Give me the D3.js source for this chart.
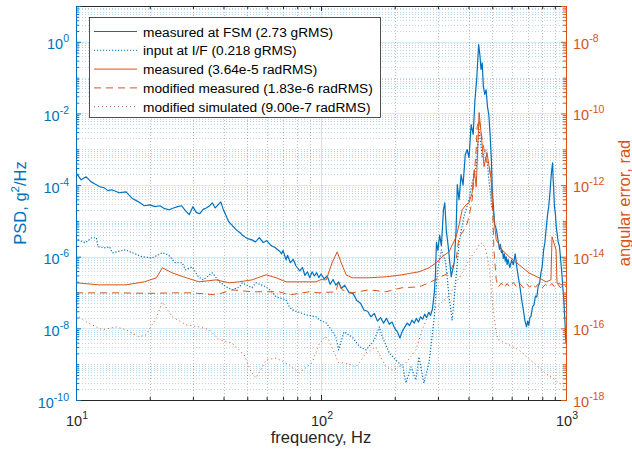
<!DOCTYPE html>
<html>
<head>
<meta charset="utf-8">
<script src="https://cdn.jsdelivr.net/npm/d3@7"></script>
<style>
  body { margin: 0; background: #fff; }
  text { font-family: "Liberation Sans", Arial, Helvetica, sans-serif; }
</style>
</head>
<body>
<div id="chart"></div>
<script>
// ---- data ----
// measured at FSM (left axis, g^2/Hz)
var fsmFreq = [10, 10.5, 11, 11.5, 12, 12.5, 13, 13.5, 14, 15, 16, 17, 18, 19, 20, 21, 22, 23, 24, 25, 26, 27, 28, 29, 30, 31, 32, 33, 34, 35, 36, 37, 38, 39, 40, 41, 42, 43, 45, 47, 48, 50, 52, 54, 56, 58, 60, 62, 63, 65, 66, 68, 69, 70, 72, 73, 75, 77, 79,
  80, 82, 84, 86, 88, 90, 92, 94, 96, 98, 100, 103, 106, 109, 112, 115, 118, 121, 125, 130, 135, 140, 145, 150, 155, 160, 165, 170, 175, 180, 185, 190, 195, 200, 205, 210, 215, 220, 225, 230, 235, 240, 245, 250, 255, 260, 265, 270, 275, 280, 285,
  290, 293, 296, 300, 305, 310, 316, 320, 325, 330, 340, 350, 356, 360, 366, 373, 380, 388, 395, 402, 410, 418, 425, 432, 440, 445, 450, 455, 460, 466, 472, 478, 484, 490, 496, 500, 505, 512, 520,
  530, 535, 540, 545, 550, 555, 560, 565, 570, 575, 580, 590, 600, 610, 620, 625, 630, 640, 650, 660, 670, 680, 690, 697, 705, 712, 720, 730, 740, 750, 760, 770, 780, 790, 800, 810, 820, 830, 840, 850, 860, 868, 875, 882, 886, 890, 897, 905, 912, 920, 930, 940, 950, 960, 970, 980, 990, 1000];
var fsmPsd = [2.2e-4, 1.4e-4, 1.7e-4, 1.25e-4, 1.05e-4, 9.0e-5, 8.5e-5, 7.0e-5, 7.4e-5, 6.1e-5, 6.5e-5, 4.2e-5, 3.4e-5, 2.65e-5, 2.8e-5, 2.5e-5, 2.65e-5, 2.2e-5, 2.05e-5, 2.3e-5, 2.5e-5, 2.65e-5, 1.9e-5, 1.5e-5, 2.5e-5, 1.7e-5, 1.6e-5, 2.1e-5, 2.3e-5, 2.6e-5, 3.2e-5, 2.3e-5, 2.8e-5, 3.4e-5, 2.0e-5, 1.4e-5, 9.5e-6, 8.0e-6, 5.7e-6, 4.5e-6, 3.9e-6, 3.2e-6, 3.0e-6, 2.6e-6, 3.4e-6, 2.5e-6, 2.8e-6, 2.2e-6, 2.0e-6, 1.8e-6, 1.65e-6, 1.4e-6, 1.2e-6, 1.5e-6, 8.2e-7, 1.1e-6, 6.8e-7, 8.5e-7, 5.6e-7,
  5.0e-7, 4.0e-7, 5.0e-7, 3.0e-7, 3.8e-7, 2.6e-7, 3.8e-7, 2.9e-7, 3.6e-7, 2.6e-7, 3.3e-7, 2.4e-7, 2.9e-7, 1.7e-7, 2.3e-7, 1.6e-7, 2.0e-7, 1.3e-7, 1.6e-7, 1.0e-7, 9.5e-8, 6.0e-8, 5.0e-8, 3.2e-8, 3.0e-8, 2.1e-8, 2.6e-8, 1.6e-8, 2.0e-8, 1.4e-8, 1.9e-8, 1.3e-8, 1.5e-8, 1.0e-8, 8e-9, 5.4e-9, 8.5e-9, 1.1e-8, 1.4e-8, 1.2e-8, 1.7e-8, 1.4e-8, 1.9e-8, 1.5e-8, 2.1e-8, 1.8e-8, 2.5e-8, 2.0e-8, 2.8e-8, 2.3e-8, 3.5e-8,
  9.8e-8, 3.0e-7, 2.5e-6, 1.5e-6, 4e-6, 2.0e-6, 2.0e-5, 3.2e-5, 5e-6, 2.15e-6, 2.75e-7, 7.2e-7, 5.7e-6, 1.03e-4, 3.9e-5, 1.95e-4, 1.0e-4, 7.1e-4, 9.8e-4, 5.8e-4, 4.9e-3, 2.6e-3, 2.4e-2, 8.9e-2, 0.84, 0.44, 0.17, 0.26, 5.6e-2, 3.4e-2, 4.6e-2, 1.56e-2, 9.3e-3, 2.6e-3, 5.1e-4, 7.4e-5, 2.8e-5, 7.8e-6, 5.7e-6,
  2.5e-6, 1.6e-6, 2.2e-6, 1.3e-6, 1.5e-6, 9e-7, 1.2e-6, 7.5e-7, 1.0e-6, 6e-7, 8.5e-7, 5e-7, 8e-7, 6e-7, 1.2e-6, 8e-7, 5e-7, 2.5e-7, 1.3e-7, 6e-8, 3.2e-8, 1.6e-8, 1.1e-8, 1.6e-8, 1.2e-8, 2.0e-8, 2.2e-8, 4e-8, 4.5e-8, 8e-8, 7.5e-8, 1.5e-7, 1.8e-7, 3.5e-7, 5.5e-7, 1.5e-6, 2.5e-6, 6e-6, 1.4e-5, 2.5e-5, 6e-5, 1.5e-4, 2.7e-4, 4.2e-4, 1.5e-4, 9e-5, 2.5e-5, 1.6e-5, 7e-6, 4.5e-6, 2.5e-6, 2.0e-6, 9e-7, 4e-7, 1.5e-7, 6e-8, 1.5e-8, 3.9e-9];

// input at I/F (left axis, g^2/Hz)
var ifFreq = [10.2, 10.9, 11.6, 12.1, 12.3, 13.2, 13.7, 14.1, 15.9, 17, 18.6, 20.5, 22.5, 23.8, 25.4, 27.1, 28, 29.8, 31.6, 33, 36, 38.5, 41, 43.4, 46.5, 47.7, 52.3, 54.3, 59.7, 63, 65.6, 72, 74.3, 76.5, 87, 95.5, 98.3, 105, 108, 115, 118, 124, 134, 144, 153, 165, 173, 178, 190, 202, 216, 222, 233, 244, 251, 263, 276, 290, 299, 310, 323, 333, 343, 356, 366, 383, 402, 414, 430, 442, 455, 471, 486, 499];
var ifPsd = [2.98e-6, 2.45e-6, 3.39e-6, 3.39e-6, 1.9e-6, 1.77e-6, 1.9e-6, 1.29e-6, 1.56e-6, 1.29e-6, 1.0e-6, 9.3e-7, 1.29e-6, 1.13e-6, 6.8e-7, 6.8e-7, 4.3e-7, 5.2e-7, 2.75e-7, 2.26e-7, 3.55e-7, 1.99e-7, 1.44e-7, 1.19e-7, 1.44e-7, 1.87e-7, 1.36e-7, 1.87e-7, 1.44e-7, 1.05e-7, 7.6e-8, 6.25e-8, 3.98e-8, 3.28e-8, 2.38e-8, 2.1e-8, 1.73e-8, 1.42e-8, 1.1e-8, 5.8e-9, 2.5e-9, 7.96e-9, 5.8e-9, 3.03e-9, 2.5e-9, 4.76e-9, 1.1e-8, 5.8e-9, 2.06e-9, 1.31e-9, 8.4e-10, 2.99e-10, 8.4e-10, 3.6e-10, 1.59e-9, 2.99e-10, 1.08e-9, 2.1e-8, 4.3e-7, 1.56e-6, 6.8e-7, 7.6e-8, 1.73e-8, 2.75e-7, 2.45e-6, 1.31e-5, 3.9e-5, 1.17e-4, 3.27e-4, 3.54e-3, 6.2e-4, 9.8e-4, 1.17e-4, 2.05e-5];

// measured angular error (right axis, rad)
var measFreq = [10, 12.4, 16, 19, 21.3, 22.5, 24.7, 28.2, 31.8, 37.3, 42.2, 46.4, 52.3, 59.7, 65.6, 72.1, 81.5, 95.5, 100, 105, 111, 116.5, 120.9, 126.7, 134, 157, 184.5, 214, 251, 276, 295, 312, 333, 356, 366, 377, 391, 402, 414, 422, 430, 442, 450, 463, 476, 495, 499, 519, 548, 586, 643, 706, 776, 829, 868, 877, 911, 919, 963, 1000];
var measErr = [1.87e-15, 1.64e-15, 1.64e-15, 1.99e-15, 2.58e-15, 4.9e-15, 3.55e-15, 2.58e-15, 1.99e-15, 2.26e-15, 1.87e-15, 1.99e-15, 2.26e-15, 3.13e-15, 2.58e-15, 1.99e-15, 1.99e-15, 1.99e-15, 2.3e-15, 2.26e-15, 6.78e-15, 1.37e-14, 6.78e-15, 3.13e-15, 2.58e-15, 2.58e-15, 2.75e-15, 3.13e-15, 3.79e-15, 4.9e-15, 6.78e-15, 1.0e-14, 1.37e-14, 3.6e-14, 7.8e-14, 2.05e-13, 2.83e-13, 3.22e-13, 6.1e-13, 2.7e-12, 9.0e-13, 1.06e-10, 2.9e-11, 3.27e-12, 8.05e-12, 1.42e-12, 3.9e-13, 2.98e-14, 1.56e-14, 1.0e-14, 5.96e-15, 3.55e-15, 2.58e-15, 1.99e-15, 2.26e-15, 3.6e-14, 1.56e-14, 1.87e-15, 1.64e-15, 1.64e-15];

// modified measured (right axis, rad)
var modFreq = [10, 15, 20, 25, 30, 37.3, 43.4, 52.3, 67.6, 74.3, 89.6, 98, 115, 118, 122, 134, 157, 184, 214, 251, 276, 303, 333, 356, 366, 377, 391, 402, 414, 430, 434, 442, 455, 471, 486, 499, 503, 508, 519,
  530, 545, 560, 575, 590, 610, 630, 650, 670, 690, 710, 730, 750, 775, 800, 825, 850, 875, 900, 925, 950, 975, 1000];
var modErr = [9.8e-16, 9.8e-16, 9.5e-16, 9.8e-16, 9.8e-16, 8.6e-16, 1.19e-15, 1.05e-15, 1.05e-15, 8.6e-16, 1.05e-15, 9.8e-16, 1.05e-15, 1.99e-15, 1.19e-15, 9.8e-16, 1.19e-15, 1.05e-15, 1.36e-15, 1.44e-15, 1.87e-15, 2.58e-15, 3.55e-15, 8.2e-15, 3.6e-14, 4.67e-14, 6.9e-14, 1.31e-13, 3.9e-13, 9.8e-12, 4.3e-11, 6.7e-11, 1.86e-11, 5.1e-12, 3.27e-12, 9.0e-13, 1.31e-13, 1.56e-14, 2.26e-15,
  1.44e-15, 1.85e-15, 1.35e-15, 1.8e-15, 1.4e-15, 1.9e-15, 1.4e-15, 1.75e-15, 1.35e-15, 1.8e-15, 1.4e-15, 1.75e-15, 1.4e-15, 1.8e-15, 1.35e-15, 1.7e-15, 1.4e-15, 1.8e-15, 1.4e-15, 1.75e-15, 1.35e-15, 1.7e-15, 1.44e-15];

// modified simulated (right axis, rad)
var simFreq = [10, 11, 12.8, 14.6, 16, 18.1, 19.3, 21.3, 22.5, 24.7, 28.2, 31.8, 35, 38.5, 43.4, 48.6, 51.9, 54.3, 59.7, 65.6, 74.3, 81.5, 92, 98, 104, 108, 112, 118, 126, 139, 153, 167, 184, 196, 222, 244, 259, 276, 295, 303, 333, 356, 377, 402, 430, 442, 455, 471, 486, 499, 519, 530, 565, 643, 714, 822, 940, 1000];
var simErr = [2.38e-16, 1.52e-16, 9.1e-17, 1.1e-16, 9.1e-17, 5.8e-17, 6.6e-17, 1.96e-16, 5.5e-16, 2.1e-16, 1.25e-16, 1.1e-16, 9.1e-17, 4.76e-17, 3.9e-17, 1.81e-17, 6.07e-18, 4.1e-18, 1.31e-17, 1.49e-17, 9.5e-18, 5.7e-18, 1.1e-17, 3.5e-17, 6e-17, 4.5e-17, 2.5e-17, 1.1e-17, 1.08e-17, 8.4e-18, 2.06e-17, 3.03e-17, 8.4e-18, 6.9e-18, 1.08e-17, 2.5e-17, 9.1e-17, 2.7e-16, 3.98e-16, 4.5e-16, 8.2e-16, 1.87e-15, 3.55e-15, 8.2e-15, 1.56e-14, 2.16e-14, 2.45e-14, 1.56e-14, 5.2e-15, 6.25e-16, 7.5e-17, 4.76e-17, 3.9e-17, 2.5e-17, 1.31e-17, 5.7e-18, 2.99e-18, 2.17e-18];

// tick labels (exponents of 10)
var xTickExp = [1, 2, 3];
var leftTickExp = [0, -2, -4, -6, -8, -10];
var rightTickExp = [-8, -10, -12, -14, -16, -18];

var legendLabels = [
  "measured at FSM (2.73 gRMS)",
  "input at I/F (0.218 gRMS)",
  "measured (3.64e-5 radRMS)",
  "modified measured (1.83e-6 radRMS)",
  "modified simulated (9.00e-7 radRMS)"
];

// ---- chart ----
var blue = "#0072BD", orange = "#D95319", axisGray = "#262626";

var svgWidth = 632;
var svgHeight = 454;
var margin = { top: 6, right: 66, bottom: 54, left: 76 };
var width = svgWidth - margin.left - margin.right;
var height = svgHeight - margin.top - margin.bottom;

var svg = d3.select("#chart").append("svg")
  .attr("width", svgWidth)
  .attr("height", svgHeight);

var chartGroup = svg.append("g")
  .attr("transform", `translate(${margin.left}, ${margin.top})`);

var xScale = d3.scaleLog().domain([10, 1000]).range([0, width]);
var yLeft = d3.scaleLog().domain([1e-10, 10]).range([height, 0]);
var yRight = d3.scaleLog().domain([1e-18, 1e-7]).range([height, 0]);

// tick positions
var xMajor = xTickExp.map(e => Math.pow(10, e));
var xMinor = [];
[10, 100].forEach(d => { for (var m = 2; m <= 9; m++) xMinor.push(d * m); });

function logMinor(lo, hi, majors) {
  var out = [];
  for (var e = lo; e < hi; e++) {
    for (var m = 1; m <= 9; m++) {
      if (m === 1 && majors.indexOf(e) >= 0) continue;
      out.push(m * Math.pow(10, e));
    }
  }
  return out;
}
var leftMajor = leftTickExp.map(e => Math.pow(10, e));
var leftMinor = logMinor(-10, 1, leftTickExp);
var rightMajor = rightTickExp.map(e => Math.pow(10, e));
var rightMinor = logMinor(-18, -7, rightTickExp);

// grid
var grid = chartGroup.append("g").attr("shape-rendering", "crispEdges");
grid.selectAll(".xminor").data(xMinor).enter().append("line")
  .attr("x1", d => Math.round(xScale(d)) + 0.5).attr("x2", d => Math.round(xScale(d)) + 0.5)
  .attr("y1", 0).attr("y2", height)
  .attr("stroke", "rgba(38,38,38,0.3)").attr("stroke-dasharray", "1,2");
grid.selectAll(".yminor").data(leftMinor).enter().append("line")
  .attr("x1", 0).attr("x2", width)
  .attr("y1", d => Math.round(yLeft(d)) + 0.5).attr("y2", d => Math.round(yLeft(d)) + 0.5)
  .attr("stroke", "rgba(0,114,189,0.28)").attr("stroke-dasharray", "1,2");
grid.selectAll(".xmajor").data([100]).enter().append("line")
  .attr("x1", d => Math.round(xScale(d)) + 0.5).attr("x2", d => Math.round(xScale(d)) + 0.5)
  .attr("y1", 0).attr("y2", height)
  .attr("stroke", "rgba(38,38,38,0.15)");
grid.selectAll(".ymajor").data(leftMajor.slice(0, 5)).enter().append("line")
  .attr("x1", 0).attr("x2", width)
  .attr("y1", d => Math.round(yLeft(d)) + 0.5).attr("y2", d => Math.round(yLeft(d)) + 0.5)
  .attr("stroke", "rgba(0,114,189,0.15)");

// data lines
svg.append("clipPath").attr("id", "clip").append("rect")
  .attr("width", width).attr("height", height);
var plot = chartGroup.append("g").attr("clip-path", "url(#clip)");

function drawSeries(freq, vals, yScale, color, dash, w) {
  var pts = freq.map((f, i) => [f, vals[i]]);
  var line = d3.line().x(d => xScale(d[0])).y(d => yScale(d[1]));
  plot.append("path")
    .datum(pts)
    .attr("d", line)
    .attr("fill", "none")
    .attr("stroke", color)
    .attr("stroke-width", w)
    .attr("stroke-linejoin", "round")
    .attr("stroke-dasharray", dash);
}
drawSeries(fsmFreq, fsmPsd, yLeft, blue, null, 1.2);
drawSeries(ifFreq, ifPsd, yLeft, blue, "1.2,1.8", 1.2);
drawSeries(measFreq, measErr, yRight, orange, null, 1);
drawSeries(modFreq, modErr, yRight, orange, "7,5", 1);
drawSeries(simFreq, simErr, yRight, orange, "1,3", 1);

// axes
function styleAxis(g, color) {
  g.attr("color", color);
  g.select(".domain").attr("stroke", color);
  g.selectAll("text").remove();
}
chartGroup.append("g").attr("transform", `translate(0, ${height})`)
  .call(d3.axisBottom(xScale).tickValues(xMinor).tickSize(-3).tickFormat(""))
  .call(g => styleAxis(g, axisGray));
chartGroup.append("g").attr("transform", `translate(0, ${height})`)
  .call(d3.axisBottom(xScale).tickValues(xMajor).tickSize(-5).tickFormat(""))
  .call(g => styleAxis(g, axisGray));
chartGroup.append("g")
  .call(d3.axisTop(xScale).tickValues(xMinor).tickSize(-3).tickFormat(""))
  .call(g => styleAxis(g, axisGray));
chartGroup.append("g")
  .call(d3.axisTop(xScale).tickValues(xMajor).tickSize(-5).tickFormat(""))
  .call(g => styleAxis(g, axisGray));
chartGroup.append("g")
  .call(d3.axisLeft(yLeft).tickValues(leftMinor).tickSize(-3).tickFormat(""))
  .call(g => styleAxis(g, blue));
chartGroup.append("g")
  .call(d3.axisLeft(yLeft).tickValues(leftMajor).tickSize(-5).tickFormat(""))
  .call(g => styleAxis(g, blue));
chartGroup.append("g").attr("transform", `translate(${width}, 0)`)
  .call(d3.axisRight(yRight).tickValues(rightMinor).tickSize(-3).tickFormat(""))
  .call(g => styleAxis(g, orange));
chartGroup.append("g").attr("transform", `translate(${width}, 0)`)
  .call(d3.axisRight(yRight).tickValues(rightMajor).tickSize(-5).tickFormat(""))
  .call(g => styleAxis(g, orange));

// tick labels with superscripts
function powLabel(sel, e) {
  sel.append("tspan").text("10");
  sel.append("tspan").attr("dy", -7).attr("font-size", 10.5).text(e);
}
xTickExp.forEach(function(e) {
  chartGroup.append("text")
    .attr("x", xScale(Math.pow(10, e)) + 1).attr("y", height + 26)
    .attr("text-anchor", "middle").attr("font-size", 14.5).attr("fill", axisGray)
    .call(powLabel, e);
});
leftTickExp.forEach(function(e) {
  chartGroup.append("text")
    .attr("x", -7).attr("y", yLeft(Math.pow(10, e)) + 7.5)
    .attr("text-anchor", "end").attr("font-size", 14.5).attr("fill", blue)
    .call(powLabel, e);
});
rightTickExp.forEach(function(e) {
  chartGroup.append("text")
    .attr("x", width + 7).attr("y", yRight(Math.pow(10, e)) + 7)
    .attr("text-anchor", "start").attr("font-size", 14.5).attr("fill", orange)
    .call(powLabel, e);
});

// axis titles
chartGroup.append("text")
  .attr("x", width / 2).attr("y", height + 43)
  .attr("text-anchor", "middle").attr("font-size", 16.5).attr("fill", axisGray)
  .text("frequency, Hz");

var yl = svg.append("text")
  .attr("transform", `translate(25.5, ${margin.top + height / 2}) rotate(-90)`)
  .attr("text-anchor", "middle").attr("font-size", 16.5).attr("fill", blue);
yl.append("tspan").text("PSD, g");
yl.append("tspan").attr("dy", -7).attr("font-size", 11.5).text("2");
yl.append("tspan").attr("dy", 7).text("/Hz");

svg.append("text")
  .attr("transform", `translate(629.5, ${margin.top + height / 2}) rotate(-90)`)
  .attr("text-anchor", "middle").attr("font-size", 16.5).attr("fill", orange)
  .text("angular error, rad");

// legend
var legendStyles = [
  { color: blue, dash: null },
  { color: blue, dash: "1.2,1.8" },
  { color: orange, dash: null },
  { color: orange, dash: "7,5" },
  { color: orange, dash: "1,3" }
];
var legend = svg.append("g");
legend.append("rect")
  .attr("x", 89.5).attr("y", 17.5).attr("width", 291).attr("height", 100)
  .attr("fill", "#fff").attr("stroke", axisGray).attr("stroke-width", 0.8);
legendLabels.forEach(function(label, i) {
  var cy = 31.5 + i * 18.8;
  legend.append("line")
    .attr("x1", 94).attr("x2", 137).attr("y1", cy).attr("y2", cy)
    .attr("stroke", legendStyles[i].color).attr("stroke-width", 1)
    .attr("stroke-dasharray", legendStyles[i].dash);
  legend.append("text")
    .attr("x", 143).attr("y", cy + 5)
    .attr("font-size", 13.7).attr("fill", "#000")
    .text(label);
});
</script>
</body>
</html>
